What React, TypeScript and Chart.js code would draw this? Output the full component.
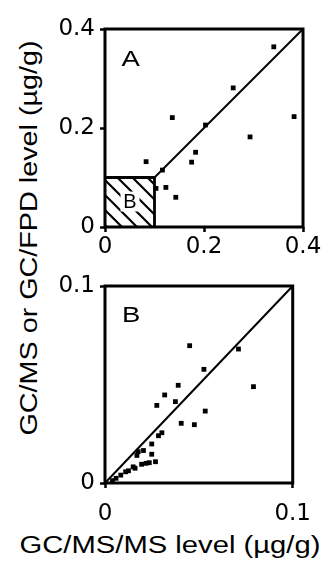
import React, { useEffect, useRef } from "react";
import { Chart, registerables } from "chart.js";

Chart.register(...registerables);

// ---- Data ----
const panelAX = [0.083, 0.116, 0.136, 0.103, 0.123, 0.143, 0.175, 0.183, 0.203, 0.259, 0.293, 0.341, 0.382];
const panelAY = [0.132, 0.115, 0.221, 0.078, 0.080, 0.060, 0.131, 0.151, 0.206, 0.281, 0.182, 0.364, 0.223];

const panelBX = [0.0451, 0.0711, 0.0527, 0.0791, 0.039, 0.0318, 0.0375, 0.0276, 0.0534, 0.0406, 0.0476, 0.0303, 0.0285, 0.0249, 0.0205, 0.0177, 0.017, 0.0249, 0.0269, 0.0236, 0.0219, 0.0195, 0.016, 0.015, 0.0125, 0.011, 0.0084, 0.0059, 0.004];
const panelBY = [0.0697, 0.068, 0.0577, 0.0489, 0.0496, 0.0447, 0.0413, 0.0394, 0.0365, 0.0303, 0.0296, 0.0255, 0.024, 0.0198, 0.0165, 0.0159, 0.014, 0.0146, 0.0108, 0.0103, 0.01, 0.0095, 0.0075, 0.0082, 0.0062, 0.0057, 0.004, 0.0024, 0.0012];

const panelATicks = [0, 0.2, 0.4];
const panelBTicks = [0, 0.1];

const panelALineX = [0.1, 0.4];
const panelALineY = [0.1, 0.4];
const panelBLineX = [0, 0.1];
const panelBLineY = [0, 0.1];

// region shown in panel B (hatched box in panel A)
const zoomBoxX = [0, 0.1, 0.1];
const zoomBoxY = [0.1, 0.1, 0];

const panelALabels = [
  { text: "A", x: 0.052, y: 0.339, size: 22, sx: 1.25, bg: false },
  { text: "B", x: 0.0505, y: 0.0525, size: 21, sx: 0.95, bg: true },
];
const panelBLabels = [{ text: "B", x: 0.0139, y: 0.0853, size: 22, sx: 1.25, bg: false }];

const xTitle = "GC/MS/MS level (µg/g)";
const yTitle = "GC/MS or GC/FPD level (µg/g)";

const zip = (xs: number[], ys: number[]) => xs.map((x, i) => ({ x, y: ys[i] }));

const framePlugin = {
  id: "frame",
  afterDatasetsDraw(chart: any) {
    const { ctx, chartArea } = chart;
    const { left, top, right, bottom } = chartArea;
    ctx.save();
    ctx.strokeStyle = "#000";
    ctx.lineWidth = 3;
    ctx.strokeRect(left, top, right - left, bottom - top);
    ctx.restore();
  },
};

const labelPlugin = {
  id: "panelLabels",
  afterDraw(chart: any, _args: any, opts: any) {
    const items = opts.items || [];
    const { ctx } = chart;
    const xs = chart.scales.x;
    const ys = chart.scales.y;
    items.forEach((it: any) => {
      const px = xs.getPixelForValue(it.x);
      const py = ys.getPixelForValue(it.y);
      ctx.save();
      ctx.translate(px, py);
      ctx.scale(it.sx, 1);
      ctx.font = `${it.size}px "Liberation Sans", Arial, sans-serif`;
      ctx.textAlign = "center";
      ctx.textBaseline = "middle";
      if (it.bg) {
        const w = ctx.measureText(it.text).width;
        ctx.fillStyle = "#fff";
        ctx.fillRect(-w / 2 - 3, -it.size * 0.45, w + 6, it.size * 0.95);
      }
      ctx.fillStyle = "#000";
      ctx.fillText(it.text, 0, 1);
      ctx.restore();
    });
  },
};

function makeHatch(ctx: CanvasRenderingContext2D) {
  const s = 15;
  const c = document.createElement("canvas");
  c.width = s;
  c.height = s;
  const g = c.getContext("2d")!;
  g.strokeStyle = "#000";
  g.lineWidth = 2.2;
  g.beginPath();
  for (const o of [-s, 0, s]) {
    g.moveTo(o - 1, -1);
    g.lineTo(o + s + 1, s + 1);
  }
  g.stroke();
  return ctx.createPattern(c, "repeat");
}

function scaleOpts(ticks: number[], fitSize: number, padding: number, axis: "x" | "y") {
  return {
    type: "linear",
    min: ticks[0],
    max: ticks[ticks.length - 1],
    afterBuildTicks: (scale: any) => {
      scale.ticks = ticks.map((v) => ({ value: v }));
    },
    afterFit: (scale: any) => {
      if (axis === "x") scale.height = fitSize;
      else scale.width = fitSize;
    },
    ticks: {
      color: "#000",
      padding,
      autoSkip: false,
      maxRotation: 0,
      font: { family: '"DejaVu Sans", sans-serif', size: 23 },
      callback: (v: any) => String(v),
    },
    grid: {
      display: true,
      drawOnChartArea: false,
      drawTicks: true,
      tickLength: 5,
      tickWidth: 2.5,
      tickColor: "#000",
      color: "#000",
    },
    border: { display: false },
  };
}

function buildChart(
  canvas: HTMLCanvasElement,
  datasets: any[],
  ticks: number[],
  labels: any[],
  padTop: number,
  xFit: number,
  xPad: number
) {
  return new Chart(canvas, {
    type: "scatter",
    data: { datasets },
    options: {
      animation: false,
      responsive: false,
      maintainAspectRatio: false,
      layout: { padding: { top: padTop, right: 20, left: 0, bottom: 0 } },
      plugins: {
        legend: { display: false },
        tooltip: { enabled: false },
        panelLabels: { items: labels },
      } as any,
      scales: {
        x: scaleOpts(ticks, xFit, xPad, "x") as any,
        y: scaleOpts(ticks, 55, 5, "y") as any,
      },
    },
    plugins: [framePlugin, labelPlugin],
  });
}

function pointsDataset(xs: number[], ys: number[]) {
  return {
    type: "scatter",
    data: zip(xs, ys),
    pointStyle: "rect",
    pointRadius: 3.4,
    pointBackgroundColor: "#000",
    pointBorderColor: "#000",
    pointBorderWidth: 0,
    clip: false,
    order: 0,
  };
}

function lineDataset(xs: number[], ys: number[]) {
  return {
    type: "line",
    data: zip(xs, ys),
    borderColor: "#000",
    borderWidth: 2,
    pointRadius: 0,
    tension: 0,
    fill: false,
    clip: false,
    order: 1,
  };
}

export default function App() {
  const refA = useRef<HTMLCanvasElement>(null);
  const refB = useRef<HTMLCanvasElement>(null);

  useEffect(() => {
    const cA = refA.current!;
    const cB = refB.current!;
    const hatch = makeHatch(cA.getContext("2d")!);

    const chartA = buildChart(
      cA,
      [
        {
          type: "line",
          data: zip(zoomBoxX, zoomBoxY),
          borderColor: "#000",
          borderWidth: 2.8,
          backgroundColor: hatch,
          fill: "origin",
          pointRadius: 0,
          tension: 0,
          order: 2,
        },
        lineDataset(panelALineX, panelALineY),
        pointsDataset(panelAX, panelAY),
      ],
      panelATicks,
      panelALabels,
      24,
      35,
      1
    );

    const chartB = buildChart(
      cB,
      [lineDataset(panelBLineX, panelBLineY), pointsDataset(panelBX, panelBY)],
      panelBTicks,
      panelBLabels,
      20,
      46,
      12
    );

    return () => {
      chartA.destroy();
      chartB.destroy();
    };
  }, []);

  const titleFont = '"Liberation Sans", Arial, sans-serif';

  return (
    <div
      style={{
        position: "fixed",
        left: 0,
        top: 0,
        width: 324,
        height: 564,
        background: "#fff",
        overflow: "hidden",
      }}
    >
      <canvas
        ref={refA}
        width={273}
        height={257}
        style={{ position: "absolute", left: 50, top: 5, width: 273, height: 257 }}
      />
      <canvas
        ref={refB}
        width={273}
        height={263}
        style={{ position: "absolute", left: 50, top: 266, width: 273, height: 263 }}
      />
      <div
        style={{
          position: "absolute",
          left: 28.5,
          top: 238,
          fontFamily: titleFont,
          fontSize: 23,
          lineHeight: "23px",
          whiteSpace: "nowrap",
          color: "#000",
          transform: "translate(-50%, -50%) rotate(-90deg) scaleX(1.25)",
        }}
      >
        {yTitle}
      </div>
      <div
        style={{
          position: "absolute",
          left: 169.5,
          top: 534,
          fontFamily: titleFont,
          fontSize: 23,
          lineHeight: "23px",
          whiteSpace: "nowrap",
          color: "#000",
          transform: "translateX(-50%) scaleX(1.27)",
        }}
      >
        {xTitle}
      </div>
    </div>
  );
}
